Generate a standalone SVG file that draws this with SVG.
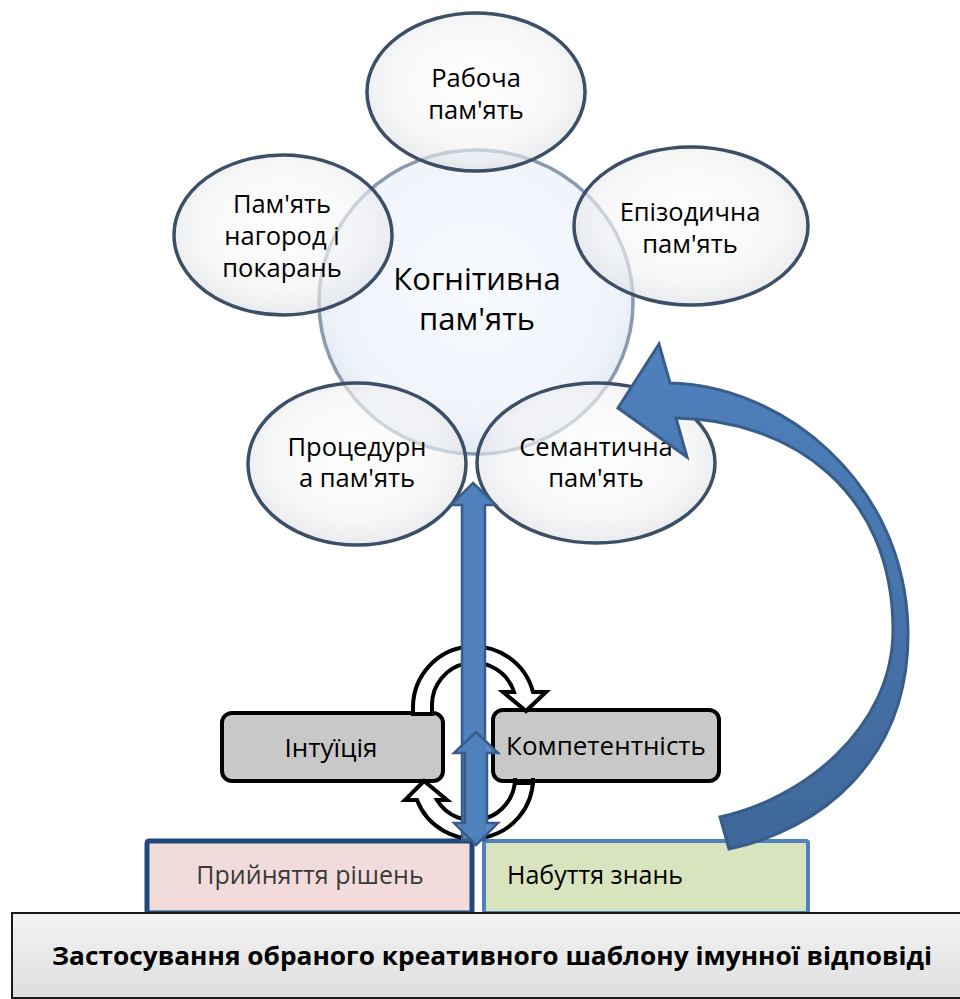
<svg xmlns="http://www.w3.org/2000/svg" width="960" height="999" viewBox="0 0 960 999">
<defs>
<radialGradient id="gEll" cx="50%" cy="45%" r="55%">
<stop offset="0" stop-color="#ffffff"/>
<stop offset="0.7" stop-color="#f3f3f3"/>
<stop offset="1" stop-color="#dcdfe4"/>
</radialGradient>
<radialGradient id="gCore" cx="50%" cy="45%" r="55%">
<stop offset="0" stop-color="#f7fafe"/>
<stop offset="0.8" stop-color="#f0f5fc"/>
<stop offset="1" stop-color="#e2e9f2"/>
</radialGradient>
<linearGradient id="gBar" x1="0" y1="0" x2="0" y2="1">
<stop offset="0" stop-color="#f4f4f4"/>
<stop offset="1" stop-color="#dedede"/>
</linearGradient>
<linearGradient id="gBig" x1="0" y1="0" x2="0" y2="1">
<stop offset="0" stop-color="#4f81bd"/>
<stop offset="1" stop-color="#3f6799"/>
</linearGradient>
</defs>
<style>
.t{font-family:"Open Sans","Noto Sans","DejaVu Sans",sans-serif;fill:#000;text-anchor:middle}
.ell{fill:url(#gEll);fill-opacity:0.62;stroke:#3b4f67;stroke-width:3.5}
.core{fill:url(#gCore);stroke:#8a9bb0;stroke-width:3.5}
.gbox{fill:#c8c8c8;stroke:#000;stroke-width:4}
.cyc{fill:#fff;stroke:#000;stroke-width:4;stroke-linejoin:miter}
.blue{fill:#4f81bd;stroke:#385d8a;stroke-width:2.5;stroke-linejoin:miter}
</style>
<rect width="960" height="999" fill="#fff"/>

<g id="node-core">
<ellipse class="core" cx="476" cy="302" rx="157" ry="152"/>
<text class="t" font-size="31"><tspan x="477" y="290">Когнітивна</tspan><tspan x="477" y="330">пам'ять</tspan></text>
</g>

<g id="node-working">
<ellipse class="ell" cx="476" cy="92" rx="109" ry="79"/>
<text class="t" font-size="25.5"><tspan x="476" y="87">Рабоча</tspan><tspan x="476" y="119">пам'ять</tspan></text>
</g>

<g id="node-reward">
<ellipse class="ell" cx="283" cy="235" rx="109" ry="80"/>
<text class="t" font-size="25.5"><tspan x="282" y="213">Пам'ять</tspan><tspan x="282" y="245">нагород і</tspan><tspan x="282" y="277">покарань</tspan></text>
</g>

<g id="node-episodic">
<ellipse class="ell" cx="691" cy="226" rx="117" ry="79"/>
<text class="t" font-size="25.5"><tspan x="690" y="221">Епізодична</tspan><tspan x="690" y="253">пам'ять</tspan></text>
</g>

<g id="node-procedural">
<ellipse class="ell" cx="357" cy="464" rx="109" ry="81"/>
<text class="t" font-size="25.5"><tspan x="357" y="456">Процедурн</tspan><tspan x="357" y="487">а пам'ять</tspan></text>
</g>

<g id="node-semantic">
<ellipse class="ell" cx="596" cy="463" rx="119" ry="80"/>
<text class="t" font-size="25.5"><tspan x="596" y="456">Семантична</tspan><tspan x="596" y="487">пам'ять</tspan></text>
</g>

<g id="node-intuition">
<rect class="gbox" x="222" y="713" width="221" height="68" rx="10"/>
<text class="t" x="331" y="757" font-size="26">Інтуїція</text>
</g>

<g id="node-competence">
<rect class="gbox" x="493" y="710" width="226" height="71" rx="10"/>
<text class="t" x="606" y="755" font-size="26">Компетентність</text>
</g>

<g id="node-decision">
<rect x="147" y="841" width="325" height="72" rx="2" fill="#f2dcdb" stroke="#1f497d" stroke-width="5"/>
<text class="t" x="310" y="884" font-size="25" style="fill:#3a3a3a">Прийняття рішень</text>
</g>

<g id="node-knowledge">
<rect x="484" y="841" width="324" height="72" rx="2" fill="#d7e4bd" stroke="#4f81bd" stroke-width="4"/>
<text class="t" x="507" y="884" font-size="25" style="text-anchor:start">Набуття знань</text>
</g>

<g id="node-apply">
<rect x="12" y="913" width="960" height="85" fill="url(#gBar)" stroke="#1a1a1a" stroke-width="2"/>
<text class="t" x="492" y="965" font-size="25" font-weight="bold" textLength="880" lengthAdjust="spacingAndGlyphs">Застосування обраного креативного шаблону імунної відповіді</text>
</g>

<g id="connectors">
<path class="cyc" d="M413 714 L413 706 A61 61 0 0 1 533 692 L546 692 L526 711 L503 692 L514 692 A42 42 0 0 0 432 706 L432 714 Z"/>
<path class="cyc" d="M533 783 L533 778 A60 60 0 0 1 417 800 L405 800 L424 781 L447 800 L437 800 A42 42 0 0 0 515 778 L515 783 Z"/>
<path class="blue" d="M473 483 L496 505 L485 505 L485 840 L462 840 L462 505 L451 505 Z"/>
<path class="blue" fill-opacity="0.92" d="M476 732 L498 753 L487 753 L487 823 L498 823 L476 845 L454 823 L465 823 L465 753 L454 753 Z"/>
<path d="M618 408 L659 344 L670 383 C780 385 905 480 908 630 C910 760 820 830 729 849 L720 817 C800 800 893 730 893 630 C893 490 790 420 676 418 L687 457 Z" fill="url(#gBig)" stroke="#385d8a" stroke-width="3" stroke-linejoin="miter"/>
</g>
</svg>
